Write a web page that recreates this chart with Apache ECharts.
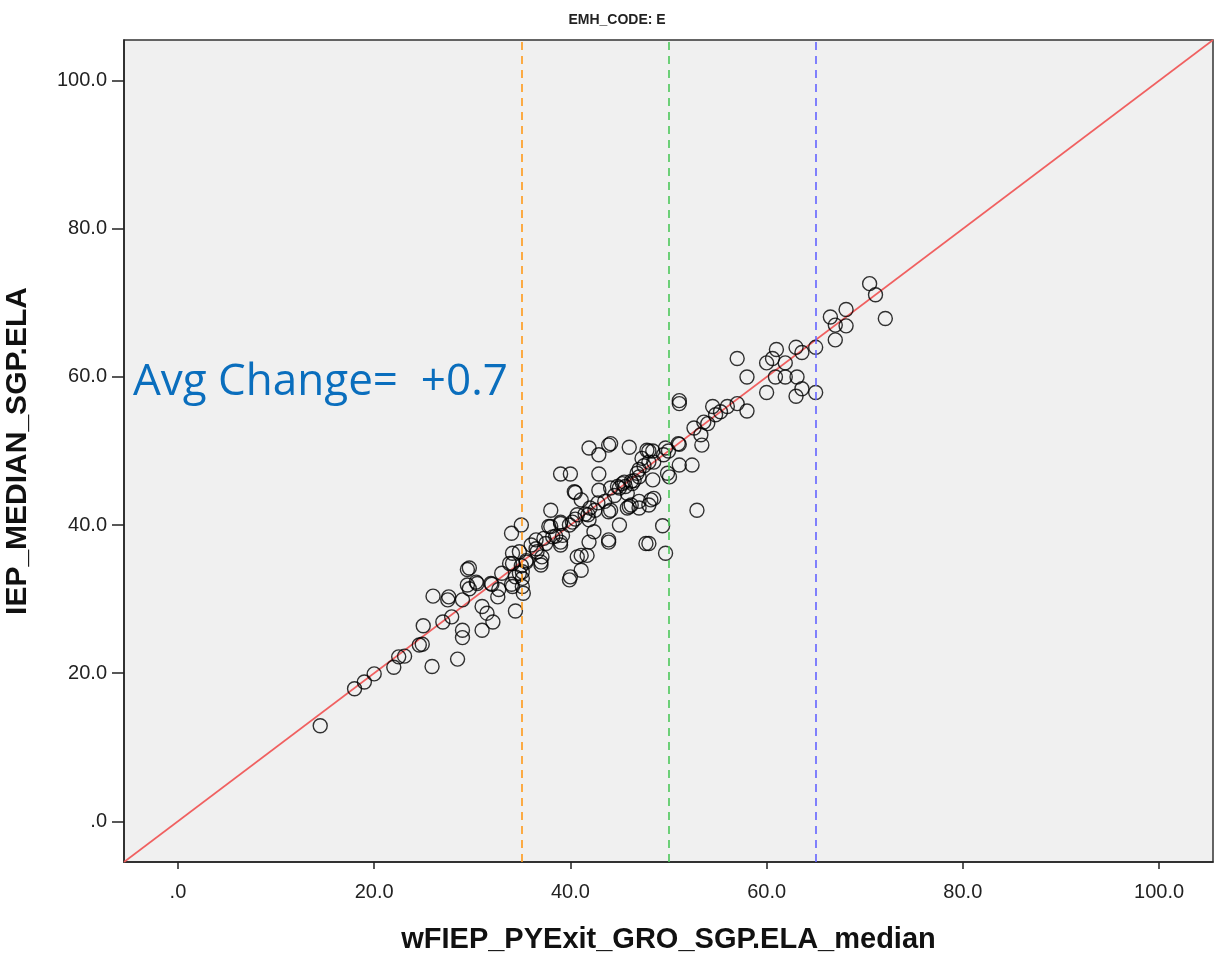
<!DOCTYPE html>
<html>
<head>
<meta charset="utf-8">
<script src="https://cdn.jsdelivr.net/npm/echarts@6/dist/echarts.min.js"></script>
<style>html,body{margin:0;padding:0;background:#fff}#c{width:1216px;height:961px}</style>
</head>
<body>
<div id="c"></div>
<script>
const chartTitle = 'EMH_CODE: E';
const xName = 'wFIEP_PYExit_GRO_SGP.ELA_median';
const yName = 'IEP_MEDIAN_SGP.ELA';
const note = 'Avg Change=  +0.7';
const axisRange = [-5.5, 105.5];
const tickValues = [0, 20, 40, 60, 80, 100];
const tickLabels = ['.0', '20.0', '40.0', '60.0', '80.0', '100.0'];
const refX = [35, 50, 65];
const refColors = ['#FF9A1A', '#4CC85A', '#6464FF'];
const xVals = [14.5,18.0,19.0,20.0,22.0,22.5,23.1,24.6,24.9,25.0,25.9,26.0,27.0,27.5,28.5,27.9,29.0,29.0,29.0,29.5,29.5,29.7,30.5,31.0,31.0,31.5,32.1,32.0,32.6,32.7,33.8,34.0,34.4,34.8,27.6,30.4,31.9,29.7,
35.0,34.0,34.1,34.8,34.1,35.1,35.1,35.1,34.4,34.1,35.2,35.5,35.0,36.0,36.5,36.6,37.0,37.0,37.1,37.3,37.8,38.0,38.2,39.0,39.2,39.0,39.0,39.9,39.9,40.0,40.7,40.7,38.0,39.0,40.2,39.0,40.0,40.5,40.4,41.1,41.1,41.7,41.1,41.9,41.9,41.8,42.4,42.5,42.9,42.9,41.9,42.9,43.9,43.9,43.9,43.9,44.1,44.1,44.1,45.0,45.0,45.3,45.8,46.2,46.0,46.0,46.3,45.6,45.8,46.2,46.8,47.0,47.0,47.0,47.3,47.7,47.8,48.0,48.4,48.4,48.0,48.2,48.5,48.0,49.4,49.7,49.9,49.7,50.1,51.1,51.1,51.1,51.1,52.4,52.9,52.6,53.3,53.4,53.6,54.0,54.5,54.8,55.3,56.0,57.0,58.0,57.0,58.0,60.0,60.6,61.0,61.9,60.9,61.9,63.1,60.0,63.0,63.6,65.0,63.0,63.6,65.0,67.0,66.5,67.0,68.1,68.1,70.5,71.1,72.1,
40.5,41.5,42.0,42.8,43.5,44.5,44.8,45.5,46.5,47.0,47.5,48.0,48.5,49.5,50.0,51.0,36.5,37.5,38.5,33.0,35.5];
const yVals = [12.9,17.9,18.8,19.9,20.8,22.2,22.3,23.8,23.9,26.4,20.9,30.4,26.9,29.9,21.9,27.6,29.9,25.8,24.8,34.0,31.9,31.4,32.1,29.0,25.8,28.1,26.9,32.0,30.3,31.3,34.8,32.0,28.4,33.5,30.3,32.3,32.1,34.2,
40.0,38.9,36.2,36.4,34.8,33.7,32.8,31.7,33.0,31.7,30.8,35.2,34.5,37.3,38.0,36.4,35.0,34.6,35.7,38.2,39.8,42.0,38.4,40.2,38.6,37.7,37.3,40.0,32.6,33.0,41.4,35.7,39.8,40.4,40.4,46.9,46.9,44.4,44.5,43.4,35.9,35.9,33.9,37.7,40.7,41.4,39.1,42.0,44.7,46.9,50.4,49.5,50.8,41.8,37.7,38.0,42.0,45.0,51.0,40.0,45.0,45.6,44.3,45.9,42.5,50.5,45.6,45.2,42.3,42.7,47.0,43.2,42.3,46.5,49.0,37.5,50.1,50.0,50.0,46.1,42.7,43.4,43.6,37.5,39.9,50.4,47.0,36.2,46.5,50.9,48.1,56.8,56.4,48.1,42.0,53.1,52.2,50.8,53.9,53.7,56.0,54.9,55.3,56.0,56.4,55.4,62.5,60.0,61.9,62.5,63.7,61.9,60.0,60.0,60.0,57.9,57.4,58.4,57.9,64.0,63.3,64.0,65.0,68.1,67.0,66.9,69.1,72.6,71.1,67.9,
40.8,41.5,42.3,43.0,43.2,44.0,45.2,45.8,46.0,47.5,48.0,48.5,48.5,49.5,50.0,51.0,36.8,37.5,38.5,33.5,35.0];

const points = xVals.map((x, i) => [x, yVals[i]]);
const chart = echarts.init(document.getElementById('c'), null, {renderer: 'canvas'});
const font = 'Arial, "Liberation Sans", sans-serif';
const lbl = v => { const i = tickValues.indexOf(v); return i >= 0 ? tickLabels[i] : ''; };
function axis(name, isX) {
  return {
    type: 'value', min: axisRange[0], max: axisRange[1],
    name: name, nameLocation: 'middle', nameGap: isX ? 63 : 91,
    nameTextStyle: {fontFamily: font, fontSize: isX ? 29 : 30, fontWeight: 'bold', color: '#111'},
    axisLine: {show: true, onZero: false, lineStyle: {color: '#222', width: 1.5}},
    axisTick: {show: true, length: isX ? 7 : 12, customValues: tickValues, lineStyle: {color: '#222', width: 1.5}},
    axisLabel: {customValues: tickValues, formatter: lbl, fontFamily: font, fontSize: 20, color: '#222', margin: isX ? 20 : 17},
    splitLine: {show: false}
  };
}
chart.setOption({
  animation: false,
  backgroundColor: '#fff',
  title: {text: chartTitle, left: 612, top: 8, textAlign: 'center',
    textStyle: {fontFamily: font, fontSize: 14, fontWeight: 'bold', color: '#222'}},
  grid: {left: 124, right: 3, top: 40, bottom: 99, outerBoundsMode: 'none', containLabel: false,
    show: true, backgroundColor: '#F0F0F0', borderColor: '#333', borderWidth: 1.5},
  xAxis: axis(xName, true),
  yAxis: axis(yName, false),
  graphic: [{type: 'text', left: 133, top: 360, z: 100,
    style: {text: note, fontFamily: '"Open Sans", sans-serif', fontSize: 44, fill: '#0A6EBD'}}],
  series: [
    {type: 'scatter', data: points, symbol: 'circle', symbolSize: 14,
      itemStyle: {color: 'rgba(0,0,0,0)', borderColor: '#000', borderWidth: 1.4}, z: 3},
    {type: 'line', data: [[axisRange[0], axisRange[0]], [axisRange[1], axisRange[1]]], symbol: 'none',
      lineStyle: {color: '#F06060', width: 1.6}, z: 2,
      markLine: {silent: true, symbol: 'none', label: {show: false},
        data: refX.map((v, i) => ({xAxis: v, lineStyle: {color: refColors[i], type: [8, 6], width: 1.6}}))}}
  ]
});
</script>
</body>
</html>
